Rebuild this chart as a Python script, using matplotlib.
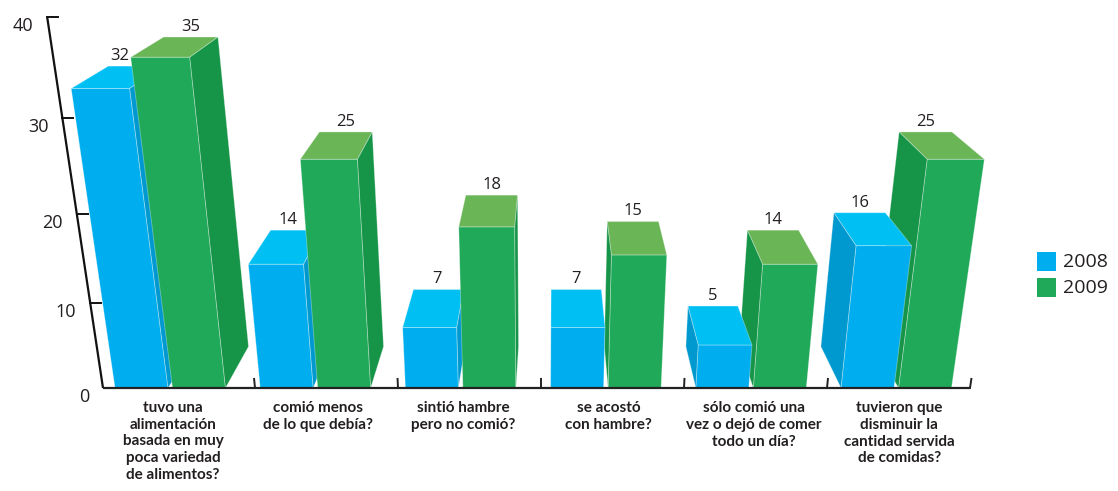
import numpy as np
import matplotlib.pyplot as plt
from matplotlib.patches import Polygon

# ------------------------------------------------------------
# Datos
# ------------------------------------------------------------
categorias = ['tuvo una\nalimentación\nbasada en muy\npoca variedad\nde alimentos?',
              'comió menos\nde lo que debía?',
              'sintió hambre\npero no comió?',
              'se acostó\ncon hambre?',
              'sólo comió una\nvez o dejó de comer\ntodo un día?',
              'tuvieron que\ndisminuir la\ncantidad servida\nde comidas?']
valores_2008 = [32, 14, 7, 7, 5, 16]
valores_2009 = [35, 25, 18, 15, 14, 25]
series = ['2008', '2009']
ticks_y = [0, 10, 20, 30, 40]

# colores: frente, tapa, lateral
colores = {
    '2008': ('#00AEEF', '#00BFF3', '#0099CF'),
    '2009': ('#1FA958', '#6AB556', '#169447'),
}
color_texto = '#231F20'

# ------------------------------------------------------------
# Perspectiva (tres puntos de fuga)
# ------------------------------------------------------------
VP_V = (537.0, 3272.0)   # fuga de las verticales
VP_Z = (554.0, -203.0)   # fuga de la profundidad
Y_BASE = 388.0
B_BARRAS = -0.00294
B_EJE = -0.00285
PROF = 0.0754
CAM_X = 552.0


def proyectar(X, Y, Z=0.0, b=B_BARRAS):
    w = 1 + b * Y + Z
    px = X + b * Y * VP_V[0] + Z * VP_Z[0]
    py = Y_BASE + b * Y * VP_V[1] + Z * VP_Z[1]
    return px / w, py / w


def area(pts):
    x = np.array([p[0] for p in pts])
    y = np.array([p[1] for p in pts])
    return 0.5 * np.sum(x * np.roll(y, -1) - np.roll(x, -1) * y)


def caja(ax, x0, x1, h, serie, z):
    frente, tapa, lado = colores[serie]
    D = PROF
    caras = [
        ([(x0, 0, 0), (x1, 0, 0), (x1, h, 0), (x0, h, 0)], frente),
        ([(x0, h, 0), (x1, h, 0), (x1, h, D), (x0, h, D)], tapa),
        ([(x1, 0, 0), (x1, 0, D), (x1, h, D), (x1, h, 0)], lado),
        ([(x0, 0, D), (x0, 0, 0), (x0, h, 0), (x0, h, D)], lado),
    ]
    for verts, col in caras:
        pts = [proyectar(*v) for v in verts]
        if area(pts) < 0:
            ax.add_patch(Polygon(pts, closed=True, facecolor=col,
                                 edgecolor=(1, 1, 1, 0.35), linewidth=0.6,
                                 zorder=z))


# ------------------------------------------------------------
# Figura
# ------------------------------------------------------------
fig = plt.figure(figsize=(11.18, 4.91), dpi=100)
ax = fig.add_axes([0, 0, 1, 1])
ax.set_xlim(0, 1118)
ax.set_ylim(491, 0)
ax.axis('off')

inicio, paso, ancho, hueco = 115.0, 145.2, 53.0, 4.5

barras = []
for i in range(len(categorias)):
    xa = inicio + i * paso
    xb = xa + ancho + hueco
    barras.append((xa, xa + ancho, valores_2008[i], '2008'))
    barras.append((xb, xb + ancho, valores_2009[i], '2009'))

# pintar de lo más lejano a lo más cercano
orden = sorted(barras, key=lambda b: -abs((b[0] + b[1]) / 2 - CAM_X))
for k, (x0, x1, h, serie) in enumerate(orden):
    caja(ax, x0, x1, h, serie, 2 + k * 0.01)

# etiquetas de valor (centradas en la parte visible del borde trasero)
for n, (x0, x1, h, serie) in enumerate(barras):
    izq, py = proyectar(x0, h, PROF)
    der, _ = proyectar(x1, h, PROF)
    if serie == '2008' and (x0 + x1) / 2 < CAM_X:
        v0, v1, vh, _ = barras[n + 1]
        a = proyectar(v0, vh)
        c = proyectar(v0, 0)
        if a[1] < py:
            borde = a[0] + (c[0] - a[0]) * (py - a[1]) / (c[1] - a[1])
            der = min(der, borde)
    ax.text((izq + der) / 2, py - 6, str(h), ha='center', va='baseline',
            fontsize=12, family='Open Sans', color=color_texto, zorder=5)

# eje vertical
xe = 103.0
p_bajo = proyectar(xe, 0, b=B_EJE)
p_alto = proyectar(xe, ticks_y[-1], b=B_EJE)
ax.plot([p_bajo[0], p_alto[0]], [p_bajo[1], p_alto[1]], color='#111111',
        lw=1.6, solid_capstyle='butt', zorder=3)
for t in ticks_y:
    tx, ty = proyectar(xe, t, b=B_EJE)
    if t > 0:
        ax.plot([tx, tx + 11], [ty, ty], color='#111111', lw=1.4, zorder=3)
    ax.text(tx - 14, ty + 9, str(t), ha='right', va='center', fontsize=13,
            family='Open Sans', color=color_texto)

# línea base y marcas
ax.plot([xe, 970], [Y_BASE, Y_BASE], color='#222222', lw=1.6,
        solid_capstyle='butt', zorder=3)
for k in range(len(categorias)):
    mx = 255.0 + 143.0 * k
    a = proyectar(mx, 0, b=B_EJE)
    c = proyectar(mx, 1.1, b=B_EJE)
    ax.plot([a[0], c[0]], [a[1], c[1]], color='#222222', lw=1.4, zorder=3)

# categorías
for i, cat in enumerate(categorias):
    xa = inicio + i * paso
    cx = (xa + xa + 2 * ancho + hueco) / 2
    ax.text(cx + 3, 401, cat, ha='center', va='top', fontsize=11,
            family='Lato', fontweight='bold', color=color_texto,
            linespacing=1.25)

# leyenda
for j, serie in enumerate(series):
    y = 252 + j * 26
    ax.add_patch(Polygon([(1037, y), (1056, y), (1056, y + 19), (1037, y + 19)],
                         closed=True, facecolor=colores[serie][0],
                         edgecolor='none'))
    ax.text(1063, y + 10, serie, ha='left', va='center', fontsize=14,
            family='Open Sans', color=color_texto)

fig.savefig('out.png', dpi=100)
